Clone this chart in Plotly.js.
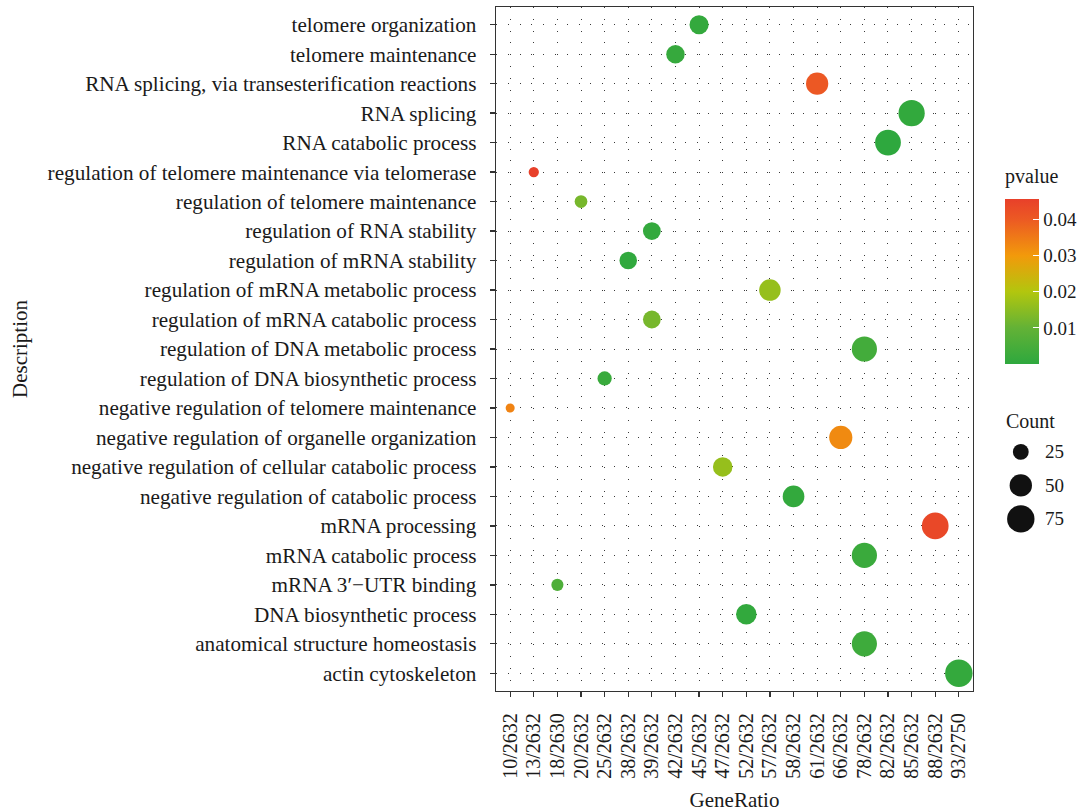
<!DOCTYPE html>
<html>
<head>
<meta charset="utf-8">
<script src="https://cdn.plot.ly/plotly-3.0.1.min.js"></script>
<style>
html,body{margin:0;padding:0;background:#fff;}
#chart{width:1090px;height:812px;}
</style>
</head>
<body>
<div id="chart"></div>
<script>
// ---- data ----
const geneRatioLevels = ['10/2632','13/2632','18/2630','20/2632','25/2632','38/2632','39/2632','42/2632','45/2632','47/2632','52/2632','57/2632','58/2632','61/2632','66/2632','78/2632','82/2632','85/2632','88/2632','93/2750'];

const descriptions = [
  'telomere organization',
  'telomere maintenance',
  'RNA splicing, via transesterification reactions',
  'RNA splicing',
  'RNA catabolic process',
  'regulation of telomere maintenance via telomerase',
  'regulation of telomere maintenance',
  'regulation of RNA stability',
  'regulation of mRNA stability',
  'regulation of mRNA metabolic process',
  'regulation of mRNA catabolic process',
  'regulation of DNA metabolic process',
  'regulation of DNA biosynthetic process',
  'negative regulation of telomere maintenance',
  'negative regulation of organelle organization',
  'negative regulation of cellular catabolic process',
  'negative regulation of catabolic process',
  'mRNA processing',
  'mRNA catabolic process',
  'mRNA 3\u2032\u2212UTR binding',
  'DNA biosynthetic process',
  'anatomical structure homeostasis',
  'actin cytoskeleton'
];

const geneRatio = ['45/2632','42/2632','61/2632','85/2632','82/2632','13/2632','20/2632','39/2632','38/2632','57/2632','39/2632','78/2632','25/2632','10/2632','66/2632','47/2632','58/2632','88/2632','78/2632','18/2630','52/2632','78/2632','93/2750'];

const counts = [45,42,61,85,82,13,20,39,38,57,39,78,25,10,66,47,58,88,78,18,52,78,93];

const pvalues = [0.0012,0.0015,0.0405,0.0008,0.000002,0.0457,0.0125,0.0012,0.0006,0.0165,0.0125,0.0040,0.0020,0.0335,0.0325,0.0165,0.0010,0.0440,0.0022,0.0060,0.0008,0.0030,0.0012];

const sizeLegendValues = [25,50,75];
const sizeLegendLabels = ['25','50','75'];

// ---- styling ----
const FONT = 'Liberation Serif, Times New Roman, serif';
const TXT = '#1a1a1a';
const colorscale = [
  [0.0,'#2EA83E'],
  [0.219,'#63B236'],
  [0.4376,'#B2C60E'],
  [0.656,'#F29A0B'],
  [0.875,'#EC5A23'],
  [1.0,'#E8402A']
];
const SIZEREF = 0.2462;

const W = 1090, H = 812;
const mL = 496, mR = 5, mT = 7, mB = 121;
const pw = W - mL - mR, ph = H - mT - mB;
const px2x = p => (p - mL) / pw;
const py2y = p => (H - mB - p) / ph;

const mainTrace = {
  type: 'scatter', mode: 'markers',
  x: geneRatio, y: descriptions,
  xaxis: 'x', yaxis: 'y',
  marker: {
    size: counts, sizemode: 'area', sizeref: SIZEREF,
    color: pvalues, colorscale: colorscale,
    cmin: Math.min(...pvalues), cmax: Math.max(...pvalues),
    line: {width: 0}, opacity: 1,
    colorbar: {
      x: px2x(1005), xanchor: 'left',
      y: py2y((199+364)/2), yanchor: 'middle',
      thickness: 34, thicknessmode: 'pixels',
      len: 165, lenmode: 'pixels',
      xpad: 0, ypad: 0, outlinewidth: 0,
      tickvals: [0.01,0.02,0.03,0.04],
      ticktext: ['0.01','0.02','0.03','0.04'],
      ticks: 'inside', ticklen: 6, tickcolor: '#ffffff', tickwidth: 1,
      ticklabelstandoff: 6,
      tickfont: {family: FONT, size: 19, color: TXT}
    }
  },
  showlegend: false,
  hoverinfo: 'x+y'
};

const sizeTrace = {
  type: 'scatter', mode: 'markers',
  x: sizeLegendValues.map(() => 0.26),
  y: sizeLegendValues.map((v,i) => i),
  xaxis: 'x2', yaxis: 'y2',
  marker: {size: sizeLegendValues, sizemode: 'area', sizeref: 0.2, color: '#111111', opacity: 1, line: {width: 0}},
  showlegend: false, hoverinfo: 'skip'
};

const gridStyle = {showgrid: true, gridcolor: '#3a3a3a', gridwidth: 1, griddash: '1px,10.8px'};

const layout = {
  width: W, height: H,
  margin: {l: mL, r: mR, t: mT, b: mB, pad: 0},
  paper_bgcolor: '#ffffff', plot_bgcolor: '#ffffff',
  font: {family: FONT, color: TXT, size: 19},
  showlegend: false,
  xaxis: Object.assign({
    type: 'category', categoryorder: 'array', categoryarray: geneRatioLevels,
    range: [-0.6, geneRatioLevels.length - 0.4],
    domain: [0, px2x(973)],
    anchor: 'y',
    tickmode: 'array', tickvals: geneRatioLevels, ticktext: geneRatioLevels,
    tickangle: -90, ticks: 'outside', ticklen: 5, tickwidth: 1.3, tickcolor: '#333',
    ticklabelstandoff: 8,
    tickfont: {family: FONT, size: 20, color: TXT},
    showline: true, linecolor: '#333', linewidth: 1.3, mirror: true,
    zeroline: false, fixedrange: true,
    title: {text: 'GeneRatio', font: {family: FONT, size: 21, color: TXT}, standoff: 16}
  }, gridStyle),
  yaxis: Object.assign({
    type: 'category', categoryorder: 'array', categoryarray: descriptions.slice().reverse(),
    range: [-0.6, descriptions.length - 0.4],
    domain: [0, 1],
    anchor: 'x',
    ticks: 'outside', ticklen: 5, tickwidth: 1.3, tickcolor: '#333',
    ticklabelstandoff: 9,
    tickfont: {family: FONT, size: 21.2, color: TXT},
    showline: true, linecolor: '#333', linewidth: 1.3, mirror: true,
    zeroline: false, fixedrange: true,
    title: {text: 'Description', font: {family: FONT, size: 21, color: TXT}, standoff: 14}
  }, gridStyle),
  xaxis2: {
    domain: [px2x(1000), px2x(1080)], range: [0, 1], anchor: 'y2',
    visible: false, fixedrange: true
  },
  yaxis2: {
    domain: [py2y(540), py2y(400)], range: [2.63, -1.55], anchor: 'x2',
    visible: false, fixedrange: true
  },
  annotations: [
    {xref: 'paper', yref: 'paper', x: px2x(1003), y: py2y(176), xanchor: 'left', yanchor: 'middle',
     text: 'pvalue', showarrow: false, font: {family: FONT, size: 20, color: TXT}},
    {xref: 'x2', yref: 'y2', x: 0.05, y: -0.92, xanchor: 'left', yanchor: 'middle',
     text: 'Count', showarrow: false, font: {family: FONT, size: 20, color: TXT}}
  ].concat(sizeLegendLabels.map((t, i) => ({
    xref: 'x2', yref: 'y2', x: 0.54, y: i, xanchor: 'left', yanchor: 'middle',
    text: t, showarrow: false, font: {family: FONT, size: 19, color: TXT}
  })))
};

Plotly.newPlot('chart', [mainTrace, sizeTrace], layout, {displayModeBar: false, staticPlot: true});
</script>
</body>
</html>
